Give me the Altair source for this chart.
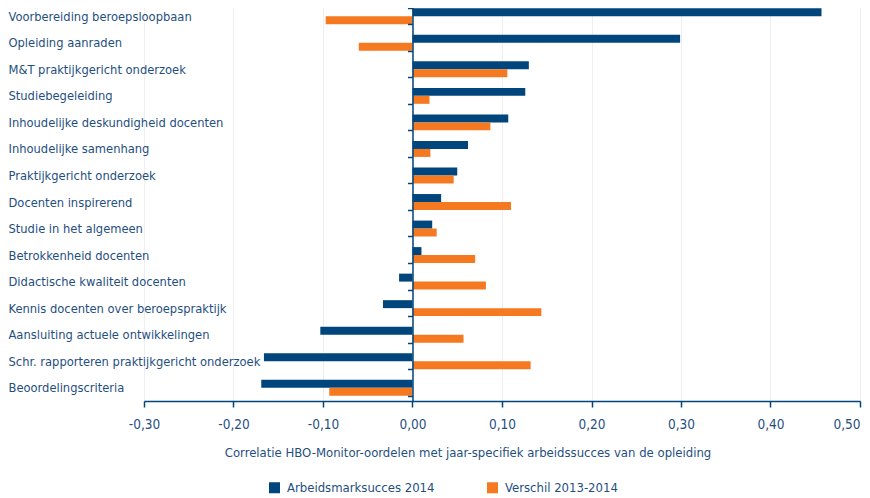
import altair as alt
import pandas as pd

categories = [
    "Voorbereiding beroepsloopbaan",
    "Opleiding aanraden",
    "M&T praktijkgericht onderzoek",
    "Studiebegeleiding",
    "Inhoudelijke deskundigheid docenten",
    "Inhoudelijke samenhang",
    "Praktijkgericht onderzoek",
    "Docenten inspirerend",
    "Studie in het algemeen",
    "Betrokkenheid docenten",
    "Didactische kwaliteit docenten",
    "Kennis docenten over beroepspraktijk",
    "Aansluiting actuele ontwikkelingen",
    "Schr. rapporteren praktijkgericht onderzoek",
    "Beoordelingscriteria",
]
arbeidsmarktsucces_2014 = [0.457, 0.299, 0.130, 0.126, 0.107, 0.062, 0.050, 0.032,
                           0.022, 0.010, -0.015, -0.033, -0.103, -0.166, -0.169]
verschil_2013_2014 = [-0.097, -0.060, 0.106, 0.019, 0.087, 0.020, 0.046, 0.110,
                      0.027, 0.070, 0.082, 0.144, 0.057, 0.132, -0.093]
series_names = ["Arbeidsmarksucces 2014", "Verschil 2013-2014"]
tick_values = [-0.3, -0.2, -0.1, 0.0, 0.1, 0.2, 0.3, 0.4, 0.5]

rows = []
for c, a, v in zip(categories, arbeidsmarktsucces_2014, verschil_2013_2014):
    rows.append({"cat": c, "serie": series_names[0], "value": a})
    rows.append({"cat": c, "serie": series_names[1], "value": v})
df = pd.DataFrame(rows)

navy = "#00457c"
orange = "#f47920"
txt = "#1f4f7f"
font = "'DejaVu Sans Condensed', 'Liberation Sans Narrow', sans-serif"

W, H = 716, 398
zero_px = W * 0.3 / 0.8

chart = alt.Chart(df).mark_bar().encode(
    x=alt.X("value:Q",
            scale=alt.Scale(domain=[-0.3, 0.5], nice=False, zero=False),
            axis=alt.Axis(values=tick_values, grid=True, gridColor="#eceef4", gridWidth=1,
                          domainColor=navy, domainWidth=1.5, tickColor=navy, tickWidth=1.5,
                          tickSize=6, labelPadding=10, labelFontSize=13.5, labelColor=txt,
                          labelFont=font,
                          labelExpr="replace(replace(format(datum.value, '.2f'), '.', ','), '\u2212', '-')",
                          labelAlign=alt.ExprRef(expr="datum.value > 0.45 ? 'right' : 'center'"),
                          title="Correlatie HBO-Monitor-oordelen met jaar-specifiek arbeidssucces van de opleiding",
                          titleFont=font, titleFontSize=13, titleFontWeight="normal", titleColor=txt,
                          titleX=323.5, titleY=45, titleAnchor="middle", titleBaseline="top")),
    y=alt.Y("cat:N", sort=categories, title=None,
            scale=alt.Scale(paddingInner=0.4, paddingOuter=0.2),
            axis=alt.Axis(orient="left", offset=-zero_px, domainColor=navy, domainWidth=1.5,
                          tickColor=navy, tickWidth=1.5, tickSize=5, tickBand="extent",
                          labelAlign="left", labelPadding=zero_px + 136 - 5,
                          labelFontSize=12.8, labelColor=txt, labelFont=font, labelLimit=0,
                          grid=False, zindex=1)),
    yOffset=alt.YOffset("serie:N", sort=series_names),
    color=alt.Color("serie:N", sort=series_names,
                    scale=alt.Scale(domain=series_names, range=[navy, orange]),
                    legend=alt.Legend(orient="none", direction="horizontal", legendX=124,
                                      legendY=478, title=None, symbolType="square",
                                      symbolSize=121, symbolStrokeWidth=0, symbolOpacity=1,
                                      labelFont=font, labelFontSize=13, labelColor=txt,
                                      columnPadding=51, symbolOffset=0, labelOffset=6)),
).properties(
    width=W, height=H,
    autosize=alt.AutoSizeParams(type="none"),
    padding={"left": 136, "top": -5, "right": 2, "bottom": 97},
).configure_view(stroke=None).configure(background="white")

chart.save("out.html", embed_options={"renderer": "svg", "actions": False})
